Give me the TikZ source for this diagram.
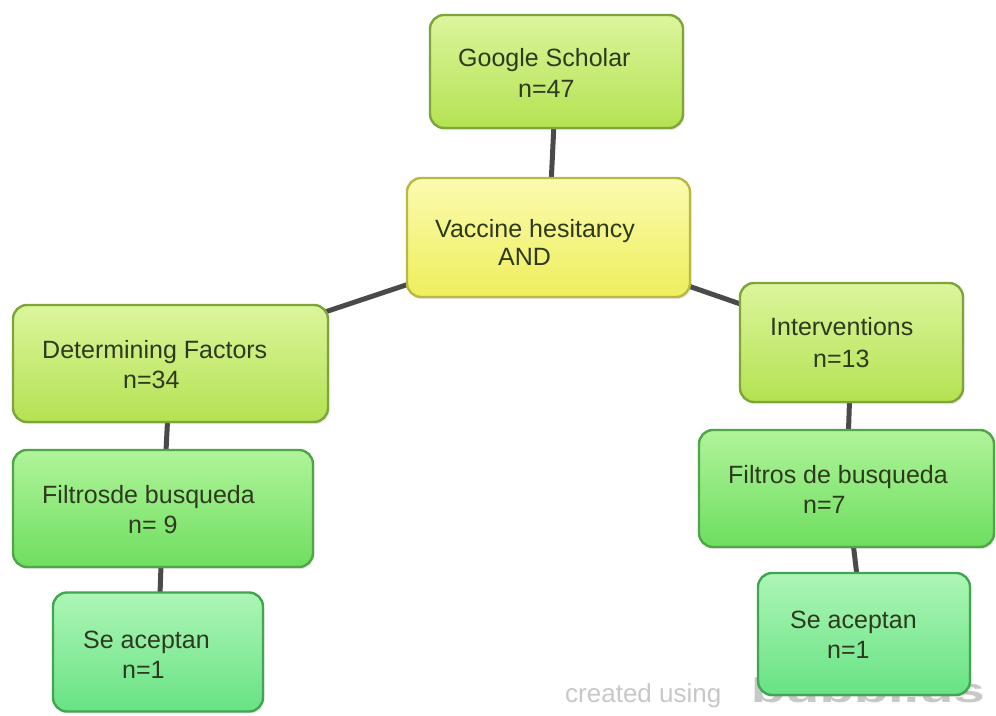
\documentclass[tikz,border=0pt]{standalone}
\usepackage{fontspec}
\setmainfont{Liberation Sans}
\usetikzlibrary{backgrounds,shadows}
\definecolor{limeTop}{HTML}{DCF59C}
\definecolor{limeBot}{HTML}{B4E252}
\definecolor{limeBd}{HTML}{7FA53A}
\definecolor{yelTop}{HTML}{FBFBB0}
\definecolor{yelBot}{HTML}{EEEE5C}
\definecolor{yelBd}{HTML}{B9B843}
\definecolor{grnTop}{HTML}{B0F49A}
\definecolor{grnBot}{HTML}{6EDE60}
\definecolor{grnBd}{HTML}{4FA548}
\definecolor{mntTop}{HTML}{ADF6B6}
\definecolor{mntBot}{HTML}{68E284}
\definecolor{mntBd}{HTML}{42A552}
\definecolor{txtc}{HTML}{2E3A1E}
\definecolor{conn}{HTML}{4A4A4A}
\definecolor{wmark}{HTML}{C8C8C8}
\tikzset{
  bx/.style={draw, rounded corners=14pt, line width=2.4pt, inner sep=0pt, outer sep=0pt,
    drop shadow={opacity=0.18, shadow xshift=1.5pt, shadow yshift=-2pt}},
  limebox/.style={bx, top color=limeTop, bottom color=limeBot, draw=limeBd},
  yelbox/.style={bx, top color=yelTop, bottom color=yelBot, draw=yelBd},
  grnbox/.style={bx, top color=grnTop, bottom color=grnBot, draw=grnBd},
  mntbox/.style={bx, top color=mntTop, bottom color=mntBot, draw=mntBd},
  tx/.style={anchor=base west, inner sep=0pt, text=txtc, font=\fontsize{25}{30}\selectfont},
  cn/.style={line width=5pt, draw=conn},
}
\begin{document}
\begin{tikzpicture}[x=1pt,y=-1pt]
\useasboundingbox (0,0) rectangle (996,715);
% watermark (behind the last box)
\node[anchor=base west, inner sep=0pt, text=wmark, font=\fontsize{26}{30}\selectfont] (wm) at (565,702) {created using};
\node[anchor=base east, inner sep=0pt, text=wmark, xscale=1.65, font=\fontsize{34}{36}\selectfont\bfseries] (wmlogo) at (985,702) {bubbl.us};
% boxes
\node[limebox, minimum width=253pt, minimum height=113pt] (gs) at (556.5,71.5) {};
\node[yelbox,  minimum width=283pt, minimum height=119pt] (vh) at (548.5,237.5) {};
\node[limebox, minimum width=315pt, minimum height=117pt] (df) at (170.5,363.5) {};
\node[grnbox,  minimum width=300pt, minimum height=117pt] (fl) at (163,508.5) {};
\node[mntbox,  minimum width=210pt, minimum height=119pt] (sl) at (158,652) {};
\node[limebox, minimum width=223pt, minimum height=119pt] (in) at (851.5,342.5) {};
\node[grnbox,  minimum width=295pt, minimum height=117pt] (fr) at (846.5,488.5) {};
\node[mntbox,  minimum width=212pt, minimum height=122pt] (sr) at (864,634) {};
% texts
\node[tx] (gs1) at (458,66) {Google Scholar};
\node[tx] (gs2) at (518,97) {n=47};
\node[tx] (vh1) at (435,237) {Vaccine hesitancy};
\node[tx] (vh2) at (498,265) {AND};
\node[tx] (df1) at (42,358) {Determining Factors};
\node[tx] (df2) at (123,388) {n=34};
\node[tx] (fl1) at (42,503) {Filtrosde busqueda};
\node[tx] (fl2) at (128,533) {n= 9};
\node[tx] (sl1) at (83,648) {Se aceptan};
\node[tx] (sl2) at (122,678) {n=1};
\node[tx] (in1) at (770,335) {Interventions};
\node[tx] (in2) at (813,367) {n=13};
\node[tx] (fr1) at (728,483) {Filtros de busqueda};
\node[tx] (fr2) at (803,513) {n=7};
\node[tx] (sr1) at (790,628) {Se aceptan};
\node[tx] (sr2) at (827,658) {n=1};
% connectors
\begin{scope}[on background layer]
  \fill[white] (0,0) rectangle (996,715);
  \draw[cn] (gs.center) -- (vh.center);
  \draw[cn] (vh.center) -- (df.center);
  \draw[cn] (vh.center) -- (in.center);
  \draw[cn] (df.center) -- (fl.center);
  \draw[cn] (fl.center) -- (sl.center);
  \draw[cn] (in.center) -- (fr.center);
  \draw[cn] (fr.center) -- (sr.center);
\end{scope}
\end{tikzpicture}
\end{document}
